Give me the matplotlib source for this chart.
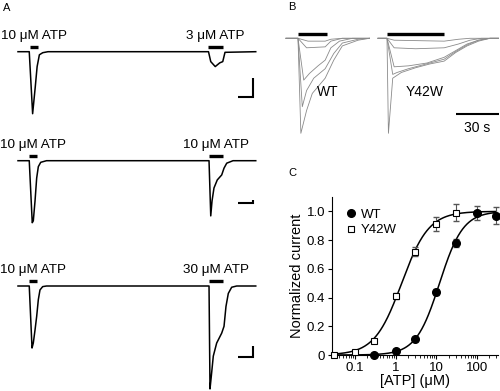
import numpy as np
import matplotlib
matplotlib.use('Agg')
import matplotlib.pyplot as plt

plt.rcParams['font.family'] = ['Liberation Sans', 'DejaVu Sans']

W, H = 500, 391

# ---- Panel A: current traces (time in s, current normalised to first 10 uM peak)
ROW1_T = [0, 15, 19.5, 23, 25.5, 28.5, 33, 40, 254, 257, 263, 269, 273, 276, 317]
ROW1_I = [0, 0, -1.0, -0.57, -0.24, -0.05, -0.016, 0, 0, -0.16, -0.24, -0.18, -0.16, -0.01, 0]

ROW2_T = [0, 15, 19, 20.4, 22.7, 24.9, 27.1, 30.3, 38, 254.7, 257, 258.7, 261.3,
          265.7, 271.6, 274.7, 278.3, 286.7, 317]
ROW2_I = [0, 0, -1.0, -0.97, -0.65, -0.28, -0.096, -0.026, 0, 0, -0.89, -0.65, -0.44,
          -0.31, -0.23, -0.12, -0.04, 0, 0]

ROW3_T = [0, 15, 18.7, 20.4, 22.7, 24.9, 27.1, 29.3, 32.9, 38, 254.7, 256, 257.7, 260.4,
          264.9, 271.6, 274.7, 277.3, 280.4, 284.9, 291.6, 317]
ROW3_I = [0, 0, -1.0, -0.92, -0.71, -0.49, -0.22, -0.064, -0.01, 0, 0, -1.66, -1.46, -1.13,
          -0.92, -0.76, -0.65, -0.33, -0.12, -0.02, 0, 0]

ROW_LABELS = [("10 \u03bcM ATP", "3 \u03bcM ATP"),
              ("10 \u03bcM ATP", "10 \u03bcM ATP"),
              ("10 \u03bcM ATP", "30 \u03bcM ATP")]
ROW_BARS = [((16, 26.7), (253, 273)),
            ((15, 25), (254.7, 273)),
            ((15, 25), (254.7, 273))]
ROW_SCALE = [0.30, 0.06, 0.17]   # vertical scale bar (normalised units)
SCALE_T = 20                     # horizontal scale bar (s)

# ---- Panel B: superimposed traces (t in s from onset, current normalised)
WT_TRACES = [
    ([0, 2, 6, 10, 19, 25, 31, 42, 50], [0, -1.0, -0.76, -0.58, -0.42, -0.23, -0.08, -0.02, 0]),
    ([0, 3, 6, 11, 19, 25, 31, 42, 50], [0, -0.72, -0.55, -0.42, -0.32, -0.16, -0.05, -0.01, 0]),
    ([0, 4, 8, 14, 19, 23, 29, 38, 50], [0, -0.44, -0.37, -0.29, -0.23, -0.1, -0.03, 0, 0]),
    ([0, 6, 19, 23, 31, 50], [0, -0.1, -0.09, -0.03, 0, 0]),
    ([0, 7, 19, 23, 31, 50], [0, -0.03, -0.03, -0.01, 0, 0]),
]
Y42W_TRACES = [
    ([0, 1, 4, 10, 20, 30, 40, 48, 56, 64, 72, 78],
     [0, -1.0, -0.42, -0.36, -0.31, -0.27, -0.24, -0.15, -0.08, -0.03, 0, 0]),
    ([0, 4, 7, 15, 25, 40, 48, 56, 64, 72, 78],
     [0, -0.38, -0.36, -0.32, -0.28, -0.22, -0.14, -0.07, -0.02, 0, 0]),
    ([0, 5, 15, 28, 40, 48, 56, 64, 72, 78],
     [0, -0.3, -0.29, -0.26, -0.2, -0.13, -0.06, -0.02, 0, 0]),
    ([0, 5, 20, 40, 50, 58, 66, 78], [0, -0.1, -0.11, -0.1, -0.06, -0.02, 0, 0]),
    ([0, 5, 40, 50, 58, 78], [0, -0.02, -0.03, -0.01, 0, 0]),
]
WT_BAR = (0, 20)
Y42W_BAR = (0, 40)

# ---- Panel C: concentration-response
WT_CONC = [0.3, 1, 3, 10, 30, 100, 300]
WT_RESP = [0.0, 0.03, 0.11, 0.44, 0.78, 0.99, 0.97]
WT_ERR = [0, 0.01, 0.01, 0.02, 0.03, 0.05, 0.06]
Y42W_CONC = [0.03, 0.1, 0.3, 1, 3, 10, 30]
Y42W_RESP = [0.0, 0.02, 0.10, 0.41, 0.72, 0.91, 0.99]
Y42W_ERR = [0, 0, 0.01, 0.02, 0.03, 0.05, 0.06]
WT_EC50, WT_NH = 12.0, 1.5
Y42W_EC50, Y42W_NH = 1.4, 1.3


def px_axes(fig, x0, y0, x1, y1):
    return fig.add_axes([x0 / W, 1 - y1 / H, (x1 - x0) / W, (y1 - y0) / H])


def hill(x, ec50, nh):
    return 1.0 / (1.0 + (ec50 / x) ** nh)


fig = plt.figure(figsize=(W / 100, H / 100), dpi=100)

# Panel A
rows = [(ROW1_T, ROW1_I, 51.7), (ROW2_T, ROW2_I, 160.7), (ROW3_T, ROW3_I, 286)]
scale_bottoms = [-0.73, -0.69, -1.14]
for i, (t, cur, base) in enumerate(rows):
    ax = px_axes(fig, 0, base - 25, 260, base + 110)
    ax.set_xlim(-18 / 0.75, 242 / 0.75)
    ax.set_ylim(-110 / 62, 25 / 62)
    ax.axis('off')
    ax.plot(t, cur, color='black', lw=1.1, clip_on=False)
    for (b0, b1), lab in zip(ROW_BARS[i], ROW_LABELS[i]):
        ax.plot([b0, b1], [0.075, 0.075], color='black', lw=2.4, solid_capstyle='butt')
        ax.text((b0 + b1) / 2, 0.25, lab, ha='center', va='center', fontsize=9.7)
    yb = scale_bottoms[i]
    ax.plot([314 - SCALE_T, 314, 314], [yb, yb, yb + ROW_SCALE[i]], color='black', lw=1.5,
            solid_capstyle='butt', solid_joinstyle='miter')

fig.text(3 / W, 1 - 8 / H, "A", fontsize=8, va='center')

# Panel B
axw = px_axes(fig, 283, 20, 375, 145)
axw.set_xlim((283 - 298) / 1.43, (375 - 298) / 1.43)
axy = px_axes(fig, 375, 20, 500, 145)
axy.set_xlim((375 - 387) / 1.43, (500 - 387) / 1.43)
for ax, traces, bar in [(axw, WT_TRACES, WT_BAR), (axy, Y42W_TRACES, Y42W_BAR)]:
    ax.set_ylim(-(145 - 38.3) / 95, (38.3 - 20) / 95)
    ax.axis('off')
    x0 = ax.get_xlim()[0] + 3 / 1.43
    for t, cur in traces:
        ax.plot([x0] + t, [0] + cur, color='#8a8a8a', lw=0.6)
    ax.plot(bar, [0.05, 0.05], color='black', lw=2.4, solid_capstyle='butt')
axw.text(20.5, -0.57, "WT", ha='center', va='center', fontsize=10)
axy.text(26.6, -0.57, "Y42W", ha='center', va='center', fontsize=10)
axy.plot([48.3, 78.3], [-0.80, -0.80], color='black', lw=1.5, solid_capstyle='butt')
axy.text(63.3, -0.94, "30 s", ha='center', va='center', fontsize=10)
fig.text(288 / W, 1 - 7 / H, "B", fontsize=8, va='center')

# Panel C
axc = px_axes(fig, 332, 197, 498, 355)
xs = np.logspace(np.log10(0.03), np.log10(300), 300)
axc.plot(xs, hill(xs, Y42W_EC50, Y42W_NH), color='black', lw=1.1)
axc.plot(xs, hill(xs, WT_EC50, WT_NH), color='black', lw=1.1)
axc.errorbar(Y42W_CONC, Y42W_RESP, yerr=Y42W_ERR, fmt='none', ecolor='#555555',
             elinewidth=0.8, capsize=2, clip_on=False)
axc.errorbar(WT_CONC, WT_RESP, yerr=WT_ERR, fmt='none', ecolor='#555555',
             elinewidth=0.8, capsize=2, clip_on=False)
axc.plot(WT_CONC, WT_RESP, 'o', color='black', ms=5.5, clip_on=False, zorder=5, label='WT')
axc.plot(Y42W_CONC, Y42W_RESP, 's', mfc='white', mec='black', mew=0.8, ms=5,
         clip_on=False, zorder=6, label='Y42W')
axc.set_xscale('log')
axc.set_xlim(0.027, 330)
axc.set_ylim(0, 1.1)
axc.set_yticks([0, 0.2, 0.4, 0.6, 0.8, 1.0])
axc.set_yticklabels(['0', '0.2', '0.4', '0.6', '0.8', '1.0'])
axc.set_xticks([0.1, 1, 10, 100])
axc.set_xticklabels(['0.1', '1', '10', '100'])
axc.spines['top'].set_visible(False)
axc.spines['right'].set_visible(False)
axc.tick_params(labelsize=9.5, length=3, width=0.8, pad=2)
axc.tick_params(which='minor', length=2, width=0.6)
axc.set_xlabel("[ATP] (\u03bcM)", fontsize=10.5, labelpad=0)
axc.set_ylabel("Normalized current", fontsize=10.5, labelpad=2)
axc.legend(loc='upper left', bbox_to_anchor=(0.03, 0.985), frameon=False, fontsize=9.5,
           handlelength=0.8, handletextpad=0.3, labelspacing=0.25, borderaxespad=0.3)
fig.text(288 / W, 1 - 173 / H, "C", fontsize=8, va='center')

fig.savefig("out.png", dpi=100)
